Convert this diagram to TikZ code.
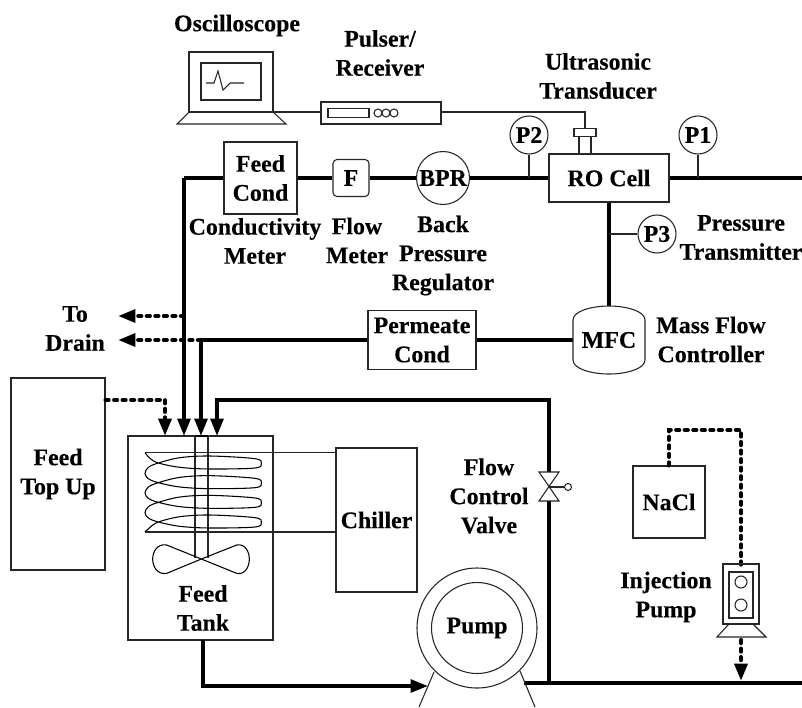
\documentclass[tikz,border=0pt]{standalone}
\usepackage{fontspec}
\setmainfont[BoldFeatures={FakeBold=0.25}]{Liberation Serif}
\usetikzlibrary{arrows.meta,calc}
\def\u{0.75pt}
\tikzset{
  thinline/.style={draw=black!85,line width=0.8pt},
  pipe/.style={draw=black,line width=2.7pt},
  pipeend/.style={pipe,-{Triangle[width=9.5pt,length=13pt]}},
  dotline/.style={draw=black,line width=3.1pt,line cap=round,dash pattern=on 2.3pt off 4.1pt},
  dotarrow/.style={dotline,-{Triangle[width=9.5pt,length=13pt]}},
  lbl/.style={font=\fontsize{17.9}{21.8}\selectfont\bfseries,align=center,inner sep=0pt},
  boxn/.style={thinline,fill=white,rectangle,inner sep=0pt,font=\fontsize{17.9}{21.8}\selectfont\bfseries,align=center},
  gauge/.style={thinline,fill=white,circle,inner sep=0pt,minimum size=38*\u,font=\fontsize{17.9}{21.8}\selectfont\bfseries}
}
\begin{document}
\begin{tikzpicture}[x=0.75pt,y=-0.75pt]
\useasboundingbox (0,0) rectangle (802,707);
\fill[white] (0,0) rectangle (802,707);

% --- named anchor points
\coordinate (corner) at (184,178);
\coordinate (rightP) at (802,178);
\coordinate (tapP2) at (529,178);
\coordinate (tapP1) at (698,178);
\coordinate (tapP3) at (609,234);
\coordinate (drainA) at (118,316);
\coordinate (drainB) at (118,340);
\coordinate (tapA) at (184,316);
\coordinate (tapB) at (201,340);
\coordinate (tankA) at (165,436);
\coordinate (tankB) at (184,436);
\coordinate (tankC) at (201,436);
\coordinate (tankD) at (217,436);
\coordinate (valveTop) at (549,472);
\coordinate (valveBot) at (549,501);
\coordinate (valveMid) at (549,487);
\coordinate (retCorner) at (549,400);
\coordinate (pumpIn) at (428,686);
\coordinate (mainStart) at (524,683);
\coordinate (mainEnd) at (802,683);
\coordinate (mainTee) at (549,683);
\coordinate (injTee) at (741,681);
\coordinate (injBase) at (741,640);
\coordinate (injTop) at (741,565);
\coordinate (tankOut) at (203,640);
\coordinate (coilTop) at (145,452.7);
\coordinate (coilBot) at (145,532);
\coordinate (stemTop) at (585,129);
\coordinate (cableL) at (273,112);
\coordinate (cableM) at (321,112);
\coordinate (cableR) at (441,112);

% --- boxes
\node[boxn,minimum width=94*\u,minimum height=192*\u] (topup) at (58,474) {Feed\\Top Up};
\node[thinline,draw,fill=white,rectangle,minimum width=145*\u,minimum height=204*\u] (tank) at (200.5,538) {};
\node[boxn,minimum width=81*\u,minimum height=144*\u] (chiller) at (376.5,520) {Chiller};
\node[boxn,minimum width=73*\u,minimum height=72*\u] (feedcond) at (260.5,178) {Feed\\Cond};
\node[boxn,rounded corners=3pt,minimum width=36*\u,minimum height=37*\u] (flow) at (351,178) {F};
\node[gauge,minimum size=53*\u] (bpr) at (443,178) {BPR};
\node[boxn,minimum width=120*\u,minimum height=48*\u] (ro) at (609,178) {RO Cell};
\node[gauge] (p2) at (529,135) {P2};
\node[gauge] (p1) at (698,135) {P1};
\node[gauge] (p3) at (657,234) {P3};
\node[boxn,minimum width=108*\u,minimum height=59*\u] (perm) at (422,340) {Permeate\\Cond};
\node[boxn,minimum width=72*\u,minimum height=72*\u] (nacl) at (669,502) {NaCl};
\node[lbl,minimum width=72*\u,minimum height=68*\u] (mfc) at (609,340) {MFC};
\node[thinline,draw,rectangle,minimum width=120*\u,minimum height=22*\u] (pulser) at (381,113) {};
\node[thinline,draw,circle,inner sep=0pt,minimum size=120*\u] (pumpout) at (477,628) {};
\node[thinline,draw,circle,inner sep=0pt,minimum size=91*\u,font=\fontsize{17.9}{21.8}\selectfont\bfseries] (pumpin) at (477,628) {Pump};

% --- thick process pipes
\draw[pipe] (feedcond.west) -- (corner);
\draw[pipeend] (corner) -- (tankB);
\draw[pipe] (feedcond.east) -- (flow.west);
\draw[pipe] (flow.east) -- (bpr.west);
\draw[pipe] (bpr.east) -- (ro.west);
\draw[pipe] (ro.east) -- (rightP);
\draw[pipe] (ro.south) -- (mfc.north);
\draw[pipe] (mfc.west) -- (perm.east);
\draw[pipe] (perm.west) -- (tapB);
\draw[pipeend] (tapB) -- (tankC);
\draw[pipeend] (valveTop) -- (retCorner) -- (217,400) -- (tankD);
\draw[pipe] (valveBot) -- (mainTee);
\draw[pipe] (mainStart) -- (mainEnd);
\draw[pipeend] (tankOut) |- (pumpIn);

% --- dotted lines
\draw[dotarrow] (tapA) -- (drainA);
\draw[dotarrow] (tapB) -- (drainB);
\draw[dotarrow] (topup.east |- 0,400) -- (165,400) -- (tankA);
\draw[dotline] (nacl.north) -- (669,430) -- (741,430) -- (injTop);
\draw[dotarrow] (injBase) -- (injTee);

% --- thin tapping lines
\draw[thinline] (p2.south) -- (tapP2);
\draw[thinline] (p1.south) -- (tapP1);
\draw[thinline] (p3.west) -- (tapP3);
\draw[thinline] (coilTop) -- (coilTop -| chiller.west);
\draw[thinline] (coilBot) -- (coilBot -| chiller.west);

% --- tank stirrer
\draw[thinline] (195,436) -- (195,558);
\draw[thinline] (208,436) -- (208,558);
\draw[draw=black,line width=1.6pt] (195,436) -- (208,436);
\begin{scope}[shift={(100,370)},x=0.25pt,y=-0.25pt]
\draw[draw=black,line width=0.8pt] plot[smooth,tension=0.55] coordinates {
(135,248)(150,265)(175,279)(240,292)(330,297)(465,294)(484,280)(465,266)(330,258)(240,263)(175,279)(145,292)(135,310)(145,326)
(175,338)(240,351)(330,356)(465,353)(484,339)(465,325)(330,317)(240,322)(175,338)(145,351)(135,369)(145,385)
(175,397)(240,410)(330,415)(465,412)(484,398)(465,384)(330,376)(240,381)(175,397)(145,410)(135,428)(145,444)
(175,456)(240,469)(330,474)(465,471)(484,457)(465,443)(330,435)(240,440)(175,456)(150,472)(135,486)};
\draw[draw=black,line width=0.8pt] (304,567) -- (200,525) .. controls (172,520) and (158,545) .. (158,567) .. controls (158,590) and (172,615) .. (200,610) -- (304,567)
 -- (410,525) .. controls (435,520) and (448,545) .. (448,567) .. controls (448,590) and (435,615) .. (410,610) -- cycle;
\end{scope}

% --- MFC vessel
\draw[thinline] (573,320) .. controls (573,311) and (592,306) .. (609,306) .. controls (626,306) and (645,311) .. (645,320)
 -- (645,360) .. controls (645,369) and (626,374) .. (609,374) .. controls (592,374) and (573,369) .. (573,360) -- cycle;

% --- valve
\draw[thinline] (539,472) -- (559,472) -- (539,501) -- (559,501) -- cycle;
\node[thinline,draw,circle,inner sep=0pt,minimum size=7*\u] (handle) at (568,487) {};
\draw[thinline] (valveMid) -- (handle.west);

% --- pump feet
\draw[thinline] (434,672) -- (419,707);
\draw[thinline] (520,671) -- (535,707);

% --- injection pump
\node[thinline,draw,rectangle,minimum width=36*\u,minimum height=60*\u] (injouter) at (741,594) {};
\node[thinline,draw,rectangle,minimum width=24*\u,minimum height=46*\u] (injinner) at (741,595) {};
\node[thinline,draw,circle,inner sep=0pt,minimum size=12*\u] (injc1) at (741,582) {};
\node[thinline,draw,circle,inner sep=0pt,minimum size=12*\u] (injc2) at (741,605) {};
\draw[thinline] (729,624) -- (717,637) -- (766,637) -- (753,624);

% --- ultrasonic transducer
\draw[thinline] (579,136) -- (579,154) (591,136) -- (591,154);
\node[thinline,draw,rectangle,minimum width=22*\u,minimum height=7*\u] (clamp) at (585,132.5) {};

% --- oscilloscope
\node[thinline,draw,rectangle,minimum width=84*\u,minimum height=60*\u] (screen) at (231,82) {};
\node[thinline,draw,rectangle,minimum width=60*\u,minimum height=37*\u] (display) at (231,81.5) {};
\draw[thinline] (206,83) -- (214,83) -- (218,71) -- (223,90) -- (230,83) -- (244,83);
\draw[thinline] (189,112) -- (177,124) -- (286,124) -- (273,112);
\draw[thinline] (cableL) -- (cableM);
\draw[thinline] (cableR) -- (585,112) -- (stemTop);
\node[thinline,draw,rectangle,minimum width=41*\u,minimum height=8*\u] (slot) at (348.5,113) {};
\node[thinline,draw,circle,inner sep=0pt,minimum size=8*\u] (dial1) at (378,113) {};
\node[thinline,draw,circle,inner sep=0pt,minimum size=8*\u] (dial2) at (386,113) {};
\node[thinline,draw,circle,inner sep=0pt,minimum size=8*\u] (dial3) at (394,113) {};

% --- tank label and free labels
\node[lbl] (tFeedTank) at (203,608) {Feed\\Tank};
\node[lbl] (tOsc) at (237,25.5) {Oscilloscope};
\node[lbl] (tPulser) at (380,53) {Pulser/\\Receiver};
\node[lbl] (tUltra) at (598,76) {Ultrasonic\\Transducer};
\node[lbl] (tCond) at (255,241) {Conductivity\\Meter};
\node[lbl] (tFlow) at (357,240.5) {Flow\\Meter};
\node[lbl] (tBack) at (443,255.5) {Back\\Pressure\\Regulator};
\node[lbl] (tPress) at (741,237.5) {Pressure\\Transmitter};
\node[lbl] (tMass) at (711,339.5) {Mass Flow\\Controller};
\node[lbl] (tDrain) at (75,328.5) {To\\Drain};
\node[lbl] (tValve) at (489,496) {Flow\\Control\\Valve};
\node[lbl] (tInj) at (666,597) {Injection\\Pump};
\end{tikzpicture}
\end{document}
